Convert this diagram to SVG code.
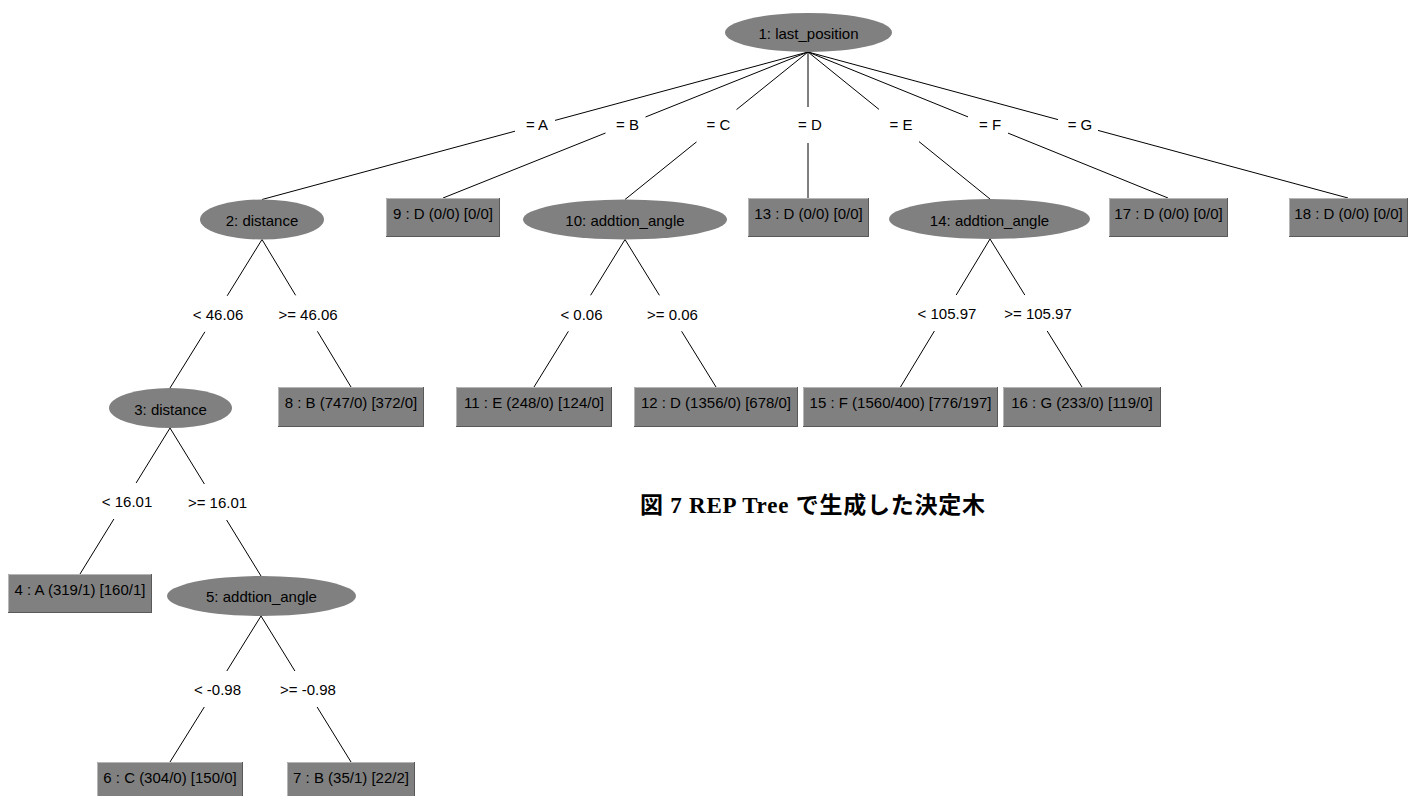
<svg xmlns="http://www.w3.org/2000/svg" width="1409" height="796" viewBox="0 0 1409 796">
<style>
  .bg { fill: #ffffff; }
  .split { fill: #808080; stroke: none; }
  .leaf { fill: #808080; stroke: none; }
  .hi { fill: none; stroke: #b6b6b6; stroke-width: 1; }
  .lo { fill: none; stroke: #595959; stroke-width: 1; }
  .t { font-family: "Liberation Sans", Arial, sans-serif; font-size: 15px; fill: #000000; text-anchor: middle; }
  .edge line { stroke: #000000; stroke-width: 1; }
  .cap { font-family: "Liberation Serif", "Times New Roman", "Noto Sans CJK JP", serif; font-size: 23px; font-weight: bold; fill: #000000; }
</style>
<rect class="bg" x="0" y="0" width="1409" height="796"/>

<g id="connectors">
  <g class="edge" id="e1-2"><line x1="808" y1="52" x2="555" y2="120.4"/><line x1="515" y1="131.2" x2="262" y2="199.5"/><text class="t" x="537" y="130">= A</text></g>
  <g class="edge" id="e1-9"><line x1="808" y1="52" x2="645.5" y2="117"/><line x1="605.5" y1="133" x2="443" y2="198"/><text class="t" x="627.5" y="130">= B</text></g>
  <g class="edge" id="e1-10"><line x1="808" y1="52" x2="736.5" y2="109.6"/><line x1="696.5" y1="141.9" x2="625" y2="199.5"/><text class="t" x="718.5" y="130">= C</text></g>
  <g class="edge" id="e1-13"><line x1="808" y1="52" x2="808" y2="107"/><line x1="808" y1="143" x2="808" y2="198"/><text class="t" x="810" y="130">= D</text></g>
  <g class="edge" id="e1-14"><line x1="808" y1="52" x2="879" y2="109.4"/><line x1="919" y1="141.6" x2="990" y2="199"/><text class="t" x="901" y="130">= E</text></g>
  <g class="edge" id="e1-17"><line x1="808" y1="52" x2="968" y2="116.9"/><line x1="1008" y1="133.1" x2="1168" y2="198"/><text class="t" x="990" y="130">= F</text></g>
  <g class="edge" id="e1-18"><line x1="808" y1="52" x2="1058" y2="119.6"/><line x1="1098" y1="130.4" x2="1348" y2="198"/><text class="t" x="1080" y="130">= G</text></g>

  <g class="edge" id="e2-3"><line x1="262" y1="239.5" x2="227.2" y2="295.8"/><line x1="204.9" y1="331.8" x2="170" y2="388"/><text class="t" x="218" y="319.5">&lt; 46.06</text></g>
  <g class="edge" id="e2-8"><line x1="262" y1="239.5" x2="295.6" y2="295.3"/><line x1="317.4" y1="331.3" x2="351" y2="387"/><text class="t" x="308" y="319.5">&gt;= 46.06</text></g>

  <g class="edge" id="e3-4"><line x1="170" y1="428" x2="136.1" y2="483"/><line x1="113.9" y1="519" x2="80" y2="574"/><text class="t" x="127" y="506.5">&lt; 16.01</text></g>
  <g class="edge" id="e3-5"><line x1="170" y1="428" x2="204.4" y2="484"/><line x1="226.6" y1="520" x2="261" y2="576"/><text class="t" x="217.5" y="507.5">&gt;= 16.01</text></g>

  <g class="edge" id="e5-6"><line x1="261" y1="616" x2="226.8" y2="671"/><line x1="204.3" y1="707" x2="170" y2="762"/><text class="t" x="217.5" y="694.5">&lt; -0.98</text></g>
  <g class="edge" id="e5-7"><line x1="261" y1="616" x2="294.9" y2="671"/><line x1="317.1" y1="707" x2="351" y2="762"/><text class="t" x="308" y="694.5">&gt;= -0.98</text></g>

  <g class="edge" id="e10-11"><line x1="625" y1="239.5" x2="590.6" y2="295.3"/><line x1="568.4" y1="331.3" x2="534" y2="387"/><text class="t" x="581.5" y="319.5">&lt; 0.06</text></g>
  <g class="edge" id="e10-12"><line x1="625" y1="239.5" x2="659.4" y2="295.3"/><line x1="681.6" y1="331.3" x2="716" y2="387"/><text class="t" x="672.5" y="319.5">&gt;= 0.06</text></g>

  <g class="edge" id="e14-15"><line x1="990" y1="239" x2="956.2" y2="295"/><line x1="934.4" y1="331" x2="900.5" y2="387"/><text class="t" x="947" y="319">&lt; 105.97</text></g>
  <g class="edge" id="e14-16"><line x1="990" y1="239" x2="1024.8" y2="295"/><line x1="1047.2" y1="331" x2="1082" y2="387"/><text class="t" x="1038" y="319">&gt;= 105.97</text></g>
</g>

<g id="node-1"><ellipse class="split" cx="808.5" cy="32.5" rx="83.5" ry="19.5"/><text class="t" x="808.5" y="38.5">1: last_position</text></g>
<g id="node-2"><ellipse class="split" cx="262" cy="219.5" rx="62" ry="20"/><text class="t" x="262" y="226">2: distance</text></g>
<g id="node-3"><ellipse class="split" cx="170.5" cy="408" rx="61.5" ry="20"/><text class="t" x="170.5" y="414.5">3: distance</text></g>
<g id="node-5"><ellipse class="split" cx="261.5" cy="596" rx="94.5" ry="20"/><text class="t" x="261.5" y="602">5: addtion_angle</text></g>
<g id="node-10"><ellipse class="split" cx="625" cy="219.5" rx="102" ry="20"/><text class="t" x="625" y="226">10: addtion_angle</text></g>
<g id="node-14"><ellipse class="split" cx="989.5" cy="219" rx="100.5" ry="20"/><text class="t" x="989.5" y="225.5">14: addtion_angle</text></g>

<g id="node-4"><rect class="leaf" x="8" y="574" width="144" height="39"/><path class="hi" d="M8.5,613 V574.5 H152"/><path class="lo" d="M151.5,574 V612.5 H8"/><text class="t" x="80" y="595">4 : A (319/1) [160/1]</text></g>
<g id="node-6"><rect class="leaf" x="97" y="762" width="146" height="39"/><path class="hi" d="M97.5,801 V762.5 H243"/><path class="lo" d="M242.5,762 V800.5 H97"/><text class="t" x="170" y="783">6 : C (304/0) [150/0]</text></g>
<g id="node-7"><rect class="leaf" x="287" y="762" width="128" height="39"/><path class="hi" d="M287.5,801 V762.5 H415"/><path class="lo" d="M414.5,762 V800.5 H287"/><text class="t" x="351" y="783">7 : B (35/1) [22/2]</text></g>
<g id="node-8"><rect class="leaf" x="278" y="387" width="146" height="40"/><path class="hi" d="M278.5,427 V387.5 H424"/><path class="lo" d="M423.5,387 V426.5 H278"/><text class="t" x="351" y="408">8 : B (747/0) [372/0]</text></g>
<g id="node-9"><rect class="leaf" x="386" y="198" width="114" height="39"/><path class="hi" d="M386.5,237 V198.5 H500"/><path class="lo" d="M499.5,198 V236.5 H386"/><text class="t" x="443" y="219">9 : D (0/0) [0/0]</text></g>
<g id="node-11"><rect class="leaf" x="456" y="387" width="156" height="40"/><path class="hi" d="M456.5,427 V387.5 H612"/><path class="lo" d="M611.5,387 V426.5 H456"/><text class="t" x="534" y="408">11 : E (248/0) [124/0]</text></g>
<g id="node-12"><rect class="leaf" x="634" y="387" width="164" height="40"/><path class="hi" d="M634.5,427 V387.5 H798"/><path class="lo" d="M797.5,387 V426.5 H634"/><text class="t" x="716" y="408">12 : D (1356/0) [678/0]</text></g>
<g id="node-13"><rect class="leaf" x="748" y="198" width="121" height="39"/><path class="hi" d="M748.5,237 V198.5 H869"/><path class="lo" d="M868.5,198 V236.5 H748"/><text class="t" x="808.5" y="219">13 : D (0/0) [0/0]</text></g>
<g id="node-15"><rect class="leaf" x="803" y="387" width="195" height="40"/><path class="hi" d="M803.5,427 V387.5 H998"/><path class="lo" d="M997.5,387 V426.5 H803"/><text class="t" x="900.5" y="408">15 : F (1560/400) [776/197]</text></g>
<g id="node-16"><rect class="leaf" x="1003" y="387" width="158" height="40"/><path class="hi" d="M1003.5,427 V387.5 H1161"/><path class="lo" d="M1160.5,387 V426.5 H1003"/><text class="t" x="1082" y="408">16 : G (233/0) [119/0]</text></g>
<g id="node-17"><rect class="leaf" x="1109" y="198" width="119" height="39"/><path class="hi" d="M1109.5,237 V198.5 H1228"/><path class="lo" d="M1227.5,198 V236.5 H1109"/><text class="t" x="1168.5" y="219">17 : D (0/0) [0/0]</text></g>
<g id="node-18"><rect class="leaf" x="1289" y="198" width="119" height="39"/><path class="hi" d="M1289.5,237 V198.5 H1408"/><path class="lo" d="M1407.5,198 V236.5 H1289"/><text class="t" x="1348.5" y="219">18 : D (0/0) [0/0]</text></g>

<g id="caption"><text class="cap" x="640" y="513" textLength="345" lengthAdjust="spacing">図 7  REP Tree で生成した決定木</text></g>
</svg>
